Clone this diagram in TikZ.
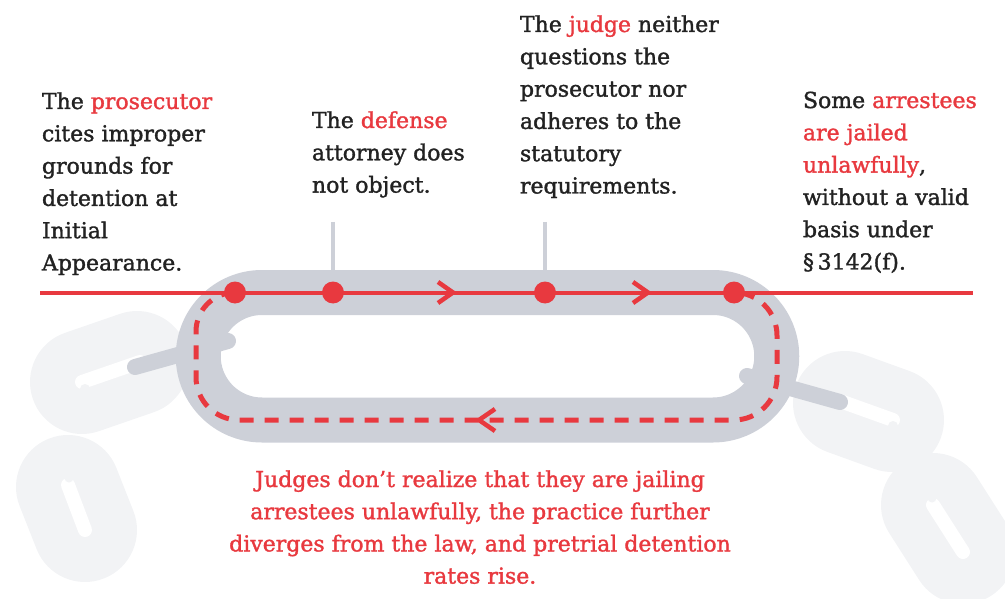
\documentclass[tikz,border=0pt]{standalone}
\usepackage{fontspec}
\setmainfont{DejaVu Serif}[FakeBold=1.5]
\definecolor{cred}{HTML}{E8393F}
\definecolor{linkgray}{HTML}{CDD0D8}
\definecolor{lightlink}{HTML}{F2F3F5}
\definecolor{ctext}{HTML}{222222}
\newcommand\Lblock[1]{\vtop{\baselineskip=32.3pt\lineskiplimit=-100pt\lineskip=0pt\halign{##\hfil\cr#1\crcr}}}
\newcommand\Cblock[1]{\vtop{\baselineskip=32.2pt\lineskiplimit=-100pt\lineskip=0pt\halign{\hfil##\hfil\cr#1\crcr}}}
\newcommand\hl[1]{\textcolor{cred}{#1}}
\tikzset{
  txt/.style={inner sep=0pt, outer sep=0pt, text=ctext, font=\fontsize{22pt}{32pt}\selectfont},
  ghost/.style={line width=104pt, line cap=round, lightlink},
  slot/.style={line width=14pt, line cap=round, white},
  bar/.style={line width=16pt, line cap=round, linkgray},
  mainlink/.style={line width=45pt, linkgray},
  tick/.style={line width=4.5pt, linkgray},
  redline/.style={line width=4pt, cred},
  reddash/.style={line width=5pt, cred, dash pattern=on 14pt off 11pt},
  chev/.style={line width=4.5pt, cred, line join=miter},
  dot/.style={circle, fill=cred, minimum size=22pt, inner sep=0pt}
}
\begin{document}
\begin{tikzpicture}[x=1pt,y=-1pt]
\useasboundingbox (0,0) rectangle (1005,599);
% background chain links
\draw[ghost] (82,382) -- (137,363);
\draw[ghost] (68,487) -- (85,530);
\draw[ghost] (845,403) -- (892,420);
\draw[ghost] (933,505) -- (963,552);
\draw[slot] (82,382) -- (140,362);
\draw[slot] (68,485) -- (85,530);
\draw[slot] (840,401) -- (893,420);
\draw[slot] (933,505) -- (963,552);
\fill[lightlink] (85,389) circle (5);
\fill[lightlink] (69,478) circle (4.5);
\fill[lightlink] (893,426) circle (5);
\fill[lightlink] (932,498) circle (4.5);
% connecting bars
\draw[bar] (135,367) -- (228,341);
\draw[bar] (840,402) -- (747,376);
% gray ticks
\coordinate (t2) at (333,222);
\coordinate (t3) at (545,222);
\draw[tick] (t2) -- (333,280);
\draw[tick] (t3) -- (545,280);
% main link
\draw[mainlink] (262,292.5) -- (713,292.5) arc(-90:90:63.75) -- (262,420) arc(90:270:63.75) -- cycle;
% red line and dots
\coordinate (rl) at (40,292.5);
\coordinate (rr) at (973,292.5);
\draw[redline] (rl) -- (rr);
\draw[reddash] (235,292.5) arc(-90:-180:39) -- (196,377) arc(180:90:43) -- (734,420) arc(90:0:43) -- (777,335.5) arc(0:-90:43);
\draw[chev] (438,282) -- (453,292.5) -- (438,303);
\draw[chev] (633,282) -- (648,292.5) -- (633,303);
\draw[chev] (495,409) -- (479,420) -- (495,431);
\node[dot] (d1) at (235,292.5) {};
\node[dot] (d2) at (333,292.5) {};
\node[dot] (d3) at (545,292.5) {};
\node[dot] (d4) at (734,292.5) {};
% texts
\node[txt, anchor=base west] (pros) at (42,109) {\Lblock{The \hl{prosecutor}\cr cites improper\cr grounds for\cr detention at\cr Initial\cr Appearance.}};
\node[txt, anchor=base west] (def) at (312,128) {\Lblock{The \hl{defense}\cr attorney does\cr not object.}};
\node[txt, anchor=base west] (judge) at (520,32) {\Lblock{The \hl{judge} neither\cr questions the\cr prosecutor nor\cr adheres to the\cr statutory\cr requirements.}};
\node[txt, anchor=base west] (arr) at (803,108) {\Lblock{Some \hl{arrestees}\cr \hl{are jailed}\cr \hl{unlawfully},\cr without a valid\cr basis under\cr §\,3142(f).}};
\node[txt, anchor=base, text=cred] (judges) at (480,487) {\Cblock{Judges don’t realize that they are jailing\cr arrestees unlawfully, the practice further\cr diverges from the law, and pretrial detention\cr rates rise.}};
\end{tikzpicture}
\end{document}
